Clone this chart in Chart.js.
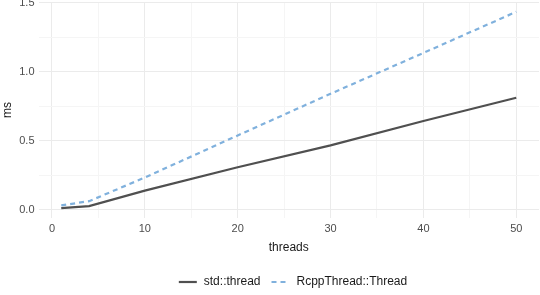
<!DOCTYPE html>
<html>
<head>
<meta charset="utf-8">
<script src="https://cdn.jsdelivr.net/npm/chart.js@4.4.1/dist/chart.umd.min.js"></script>
<style>
html,body{margin:0;padding:0;background:#fff;}
#wrap{width:540px;height:295px;position:relative;}
</style>
</head>
<body>
<div id="wrap"><canvas id="c" width="540" height="295"></canvas></div>
<script>
// Data
const threads = [1, 4, 10, 20, 30, 40, 50];
const stdThread = [0.013, 0.028, 0.14, 0.31, 0.468, 0.645, 0.813];
const rcppThread = [0.033, 0.064, 0.235, 0.54, 0.842, 1.138, 1.436];
const seriesNames = ['std::thread', 'RcppThread::Thread'];
const xTicks = [0, 10, 20, 30, 40, 50];
const yTicks = [0, 0.5, 1.0, 1.5];
const xMinor = [5, 15, 25, 35, 45];
const yMinor = [0.25, 0.75, 1.25];

const FONT = '"Liberation Sans", Arial, sans-serif';
const GREY = '#505050';
const BLUE = '#80b1dd';

function sample(color, dash) {
  const c = document.createElement('canvas');
  c.width = 20; c.height = 6;
  const g = c.getContext('2d');
  g.strokeStyle = color; g.lineWidth = 2.2;
  if (dash) g.setLineDash(dash);
  g.beginPath(); g.moveTo(1, 3); g.lineTo(19, 3); g.stroke();
  return c;
}
const samples = [sample(GREY, null), sample(BLUE, [5, 4])];

function pts(ys) { return threads.map((t, i) => ({x: t, y: ys[i]})); }

const xAll = xTicks.concat(xMinor).sort((a,b)=>a-b);
const yAll = yTicks.concat(yMinor).sort((a,b)=>a-b);

const legendShift = {
  id: 'legendShift',
  afterLayout(chart) {
    const lg = chart.legend;
    if (lg) { lg.left += 46; lg.top += 3; }
  }
};

new Chart(document.getElementById('c'), {
  type: 'line',
  plugins: [legendShift],
  data: {
    datasets: [
      {label: seriesNames[0], data: pts(stdThread), borderColor: GREY, borderWidth: 2.2, pointRadius: 0, tension: 0, fill: false},
      {label: seriesNames[1], data: pts(rcppThread), borderColor: BLUE, borderWidth: 2.2, borderDash: [5, 4], pointRadius: 0, tension: 0, fill: false}
    ]
  },
  options: {
    responsive: false,
    animation: false,
    layout: {padding: {top: 2, right: 1, left: 0, bottom: 0}},
    plugins: {
      tooltip: {enabled: false},
      legend: {
        position: 'bottom',
        labels: {
          usePointStyle: true,
          pointStyleWidth: 20,
          padding: 10,
          color: '#1a1a1a',
          font: {family: FONT, size: 12},
          generateLabels: (chart) => chart.data.datasets.map((d, i) => ({
            text: d.label, pointStyle: samples[i], fillStyle: 'rgba(0,0,0,0)',
            strokeStyle: 'rgba(0,0,0,0)', lineWidth: 0, datasetIndex: i, hidden: false, fontColor: '#1a1a1a'
          }))
        }
      }
    },
    scales: {
      x: {
        type: 'linear',
        min: -1.45, max: 52.45,
        border: {display: false},
        grid: {drawTicks: false, color: (ctx) => (xTicks.includes(ctx.tick.value) ? '#ebebeb' : '#f5f5f5'), lineWidth: 1},
        ticks: {
          padding: 4.5,
          color: '#4d4d4d',
          font: {family: FONT, size: 11},
          maxRotation: 0,
          callback: (v) => (xTicks.includes(v) ? String(v) : '')
        },
        afterBuildTicks: (s) => { s.ticks = xAll.map(v => ({value: v})); },
        afterFit: (s) => { s.height = 45; s.paddingLeft = 0; s.paddingRight = 0; },
        title: {display: true, text: 'threads', color: '#1a1a1a', font: {family: FONT, size: 12}, padding: {top: 0, bottom: 8.5}}
      },
      y: {
        type: 'linear',
        min: -0.058, max: 1.507,
        border: {display: false},
        grid: {drawTicks: false, color: (ctx) => (yTicks.includes(ctx.tick.value) ? '#ebebeb' : '#f5f5f5'), lineWidth: 1},
        ticks: {
          padding: 4,
          color: '#4d4d4d',
          font: {family: FONT, size: 11},
          callback: (v) => (yTicks.includes(v) ? v.toFixed(1) : '')
        },
        afterBuildTicks: (s) => { s.ticks = yAll.map(v => ({value: v})); },
        afterFit: (s) => { s.width = 38.5; s.paddingTop = 0; s.paddingBottom = 0; },
        title: {display: true, text: 'ms', color: '#1a1a1a', font: {family: FONT, size: 12}, padding: {top: 0, bottom: 0}}
      }
    }
  }
});
</script>
</body>
</html>
